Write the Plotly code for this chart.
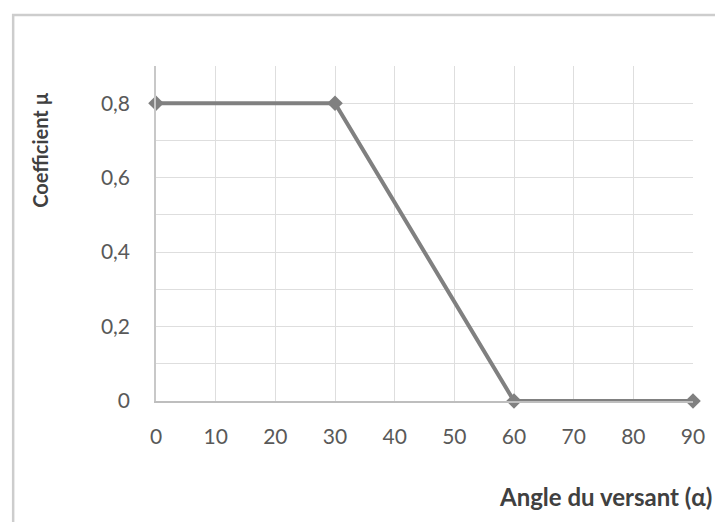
import plotly.graph_objects as go

## Data
angle = [0, 30, 60, 90]
coef_mu = [0.8, 0.8, 0, 0]
x_ticks = [0, 10, 20, 30, 40, 50, 60, 70, 80, 90]
y_ticks = [0, 0.2, 0.4, 0.6, 0.8]
y_labels = ['0', '0,2', '0,4', '0,6', '0,8']

## Styling
line_col = 'rgb(128, 128, 128)'
text_col = 'rgb(89, 89, 89)'
title_col = 'rgb(64, 64, 64)'
grid_col = 'rgb(222, 222, 222)'
font_family = 'Lato, Open Sans, sans-serif'

fig = go.Figure()
fig.add_trace(go.Scatter(
    x=angle,
    y=coef_mu,
    mode='lines+markers',
    line=dict(color=line_col, width=4),
    marker=dict(symbol='diamond', size=12, color=line_col),
    showlegend=False,
    cliponaxis=False
))

fig.update_xaxes(
    range=[0, 90],
    tickvals=x_ticks,
    showgrid=True,
    gridcolor=grid_col,
    gridwidth=1,
    zeroline=False,
    showline=True,
    linecolor='rgb(190, 190, 190)',
    linewidth=1.5,
    ticks='',
    ticklabelstandoff=16,
    tickfont=dict(size=21, color=text_col, family=font_family)
)
fig.update_yaxes(
    range=[0, 0.9],
    tickvals=y_ticks,
    ticktext=y_labels,
    showgrid=True,
    gridcolor=grid_col,
    gridwidth=1,
    minor=dict(dtick=0.1, showgrid=True, gridcolor=grid_col, gridwidth=1),
    zeroline=False,
    showline=True,
    linecolor='rgb(200, 200, 200)',
    linewidth=1.5,
    ticks='',
    ticklabelstandoff=20,
    tickfont=dict(size=21, color=text_col, family=font_family)
)

# page body adds an 8px margin, so the figure is sized to fit the window
fig.update_layout(
    width=715,
    height=514,
    margin=dict(l=148, r=30, t=58, b=121),
    paper_bgcolor='white',
    plot_bgcolor='white',
    shapes=[dict(
        type='rect', xref='paper', yref='paper',
        x0=-0.266, x1=1.05, y0=-0.45, y1=1.152,
        line=dict(color='rgb(205, 205, 205)', width=2.5)
    )],
    annotations=[
        dict(
            text='Coefficient µ', textangle=-90,
            xref='paper', yref='paper', x=-0.216, y=0.75,
            xanchor='center', yanchor='middle', showarrow=False,
            font=dict(size=20, color=title_col, family=font_family, weight='bold')
        ),
        dict(
            text='Angle du versant (α)',
            xref='paper', yref='paper', x=1.04, y=-0.284,
            xanchor='right', yanchor='middle', showarrow=False,
            font=dict(size=24, color=title_col, family=font_family, weight='bold')
        )
    ]
)

fig.write_html("out.html")
